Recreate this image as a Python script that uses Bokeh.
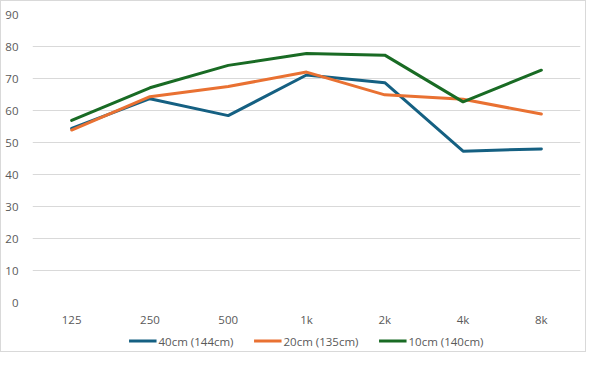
from bokeh.plotting import figure
from bokeh.layouts import column
from bokeh.models import Legend, LegendItem, FactorRange, SingleIntervalTicker, Range1d
from bokeh.embed import file_html
from bokeh.resources import INLINE

freqs = ["125", "250", "500", "1k", "2k", "4k", "8k"]
s40 = [54.4, 63.7, 58.4, 71.1, 68.7, 47.3, 48.0]
s20 = [53.9, 64.3, 67.5, 72.0, 64.9, 63.5, 58.9]
s10 = [56.9, 67.1, 74.1, 77.8, 77.3, 62.7, 72.6]
names = ["40cm (144cm)", "20cm (135cm)", "10cm (140cm)"]
colors = ["#156082", "#E97132", "#196B24"]

W = 584
p = figure(width=W, height=329, x_range=FactorRange(*freqs, range_padding=0),
           y_range=(0, 90), output_backend="svg", toolbar_location=None,
           min_border_left=31, min_border_right=5, min_border_top=13, min_border_bottom=28)
p.outline_line_color = None
p.background_fill_color = "white"
p.border_fill_color = "white"

for vals, c in zip([s40, s20, s10], colors):
    p.line(freqs, vals, line_color=c, line_width=3, line_join="round", line_cap="round")

p.yaxis.ticker = SingleIntervalTicker(interval=10)
for ax in (p.xaxis[0], p.yaxis[0]):
    ax.axis_line_color = None
    ax.major_tick_line_color = None
    ax.minor_tick_line_color = None
    ax.major_tick_out = 0
    ax.major_tick_in = 0
    ax.major_label_text_color = "#595959"
    ax.major_label_text_font = "Open Sans"
    ax.major_label_text_font_size = "11.5px"
p.yaxis.major_label_standoff = 10
p.xaxis.major_label_standoff = 9
p.xgrid.grid_line_color = None
p.ygrid.grid_line_color = "#d9d9d9"
p.ygrid.grid_line_width = 1

# legend strip (dummy renderers outside the visible range, used only for legend glyphs)
lg = figure(width=W, height=21, output_backend="svg", toolbar_location=None,
            x_axis_type=None, y_axis_type=None,
            x_range=Range1d(1, 2), y_range=Range1d(1, 2),
            min_border_left=0, min_border_right=0, min_border_top=0, min_border_bottom=0)
lg.outline_line_color = None
lg.grid.visible = False
lg.border_fill_color = "white"
lrs = [lg.line(x=[0], y=[0], line_color=c, line_width=3) for c in colors]
legend = Legend(items=[LegendItem(label=n, renderers=[r]) for n, r in zip(names, lrs)],
                orientation="horizontal", location="center",
                label_text_font="Open Sans", label_text_font_size="11.5px",
                label_text_color="#595959", glyph_width=28, glyph_height=14,
                label_height=14, label_standoff=2,
                spacing=20, border_line_color=None, background_fill_alpha=0,
                padding=4, margin=0)
lg.add_layout(legend, "center")

layout = column(p, lg, spacing=0, styles={"border": "1px solid #d9d9d9"})
open("out.html", "w").write(file_html(layout, INLINE))
